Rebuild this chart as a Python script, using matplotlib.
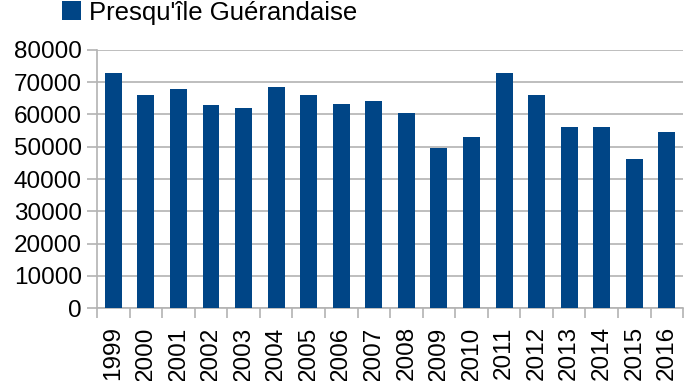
import matplotlib
matplotlib.use("Agg")
import matplotlib.pyplot as plt
from matplotlib.ticker import MultipleLocator, FixedLocator, NullFormatter

plt.rcParams['font.family'] = ['Liberation Sans', 'DejaVu Sans']

years = ['1999', '2000', '2001', '2002', '2003', '2004', '2005', '2006', '2007',
         '2008', '2009', '2010', '2011', '2012', '2013', '2014', '2015', '2016']
visitors = [73000, 66000, 67900, 63000, 62000, 68600, 66000, 63300, 64300,
            60500, 49600, 53000, 73000, 66000, 56100, 56100, 46200, 54600]
series_name = "Presqu'île Guérandaise"

bar_color = '#004586'
grid_color = '#b3b3b3'
fs = 17.5

fig = plt.figure(figsize=(6.88, 3.81), dpi=100)
ax = fig.add_axes([0.141, 0.191, 0.852, 0.678])

pos = list(range(len(years)))
bars = ax.bar(pos, visitors, width=0.52, color=bar_color, label=series_name, zorder=3)

ax.set_xlim(-0.5, len(years) - 0.5)
ax.set_ylim(0, 80000)
ax.yaxis.set_major_locator(MultipleLocator(10000))
ax.yaxis.grid(True, color=grid_color, linewidth=1.2, zorder=0)
ax.set_axisbelow(True)

# category boundaries carry the tick marks, centers carry the labels
ax.xaxis.set_major_locator(FixedLocator([p - 0.5 for p in pos] + [len(years) - 0.5]))
ax.xaxis.set_major_formatter(NullFormatter())
ax.xaxis.set_minor_locator(FixedLocator(pos))
ax.set_xticklabels(years, minor=True, rotation=90, fontsize=fs)
ax.tick_params(axis='x', which='major', length=7, width=1.2, color=grid_color)
ax.tick_params(axis='x', which='minor', length=0, pad=13)
ax.tick_params(axis='y', length=7, width=1.2, color=grid_color, labelsize=fs, pad=4)

for side in ('top', 'right'):
    ax.spines[side].set_visible(False)
for side in ('left', 'bottom'):
    ax.spines[side].set_color(grid_color)
    ax.spines[side].set_linewidth(1.2)

fig.legend(handles=[bars], labels=[series_name], loc='upper left',
           bbox_to_anchor=(0.075, 1.025), frameon=False, fontsize=18.5,
           handlelength=0.75, handleheight=0.75, handletextpad=0.3, borderaxespad=0)

fig.savefig('out.png', dpi=100)
